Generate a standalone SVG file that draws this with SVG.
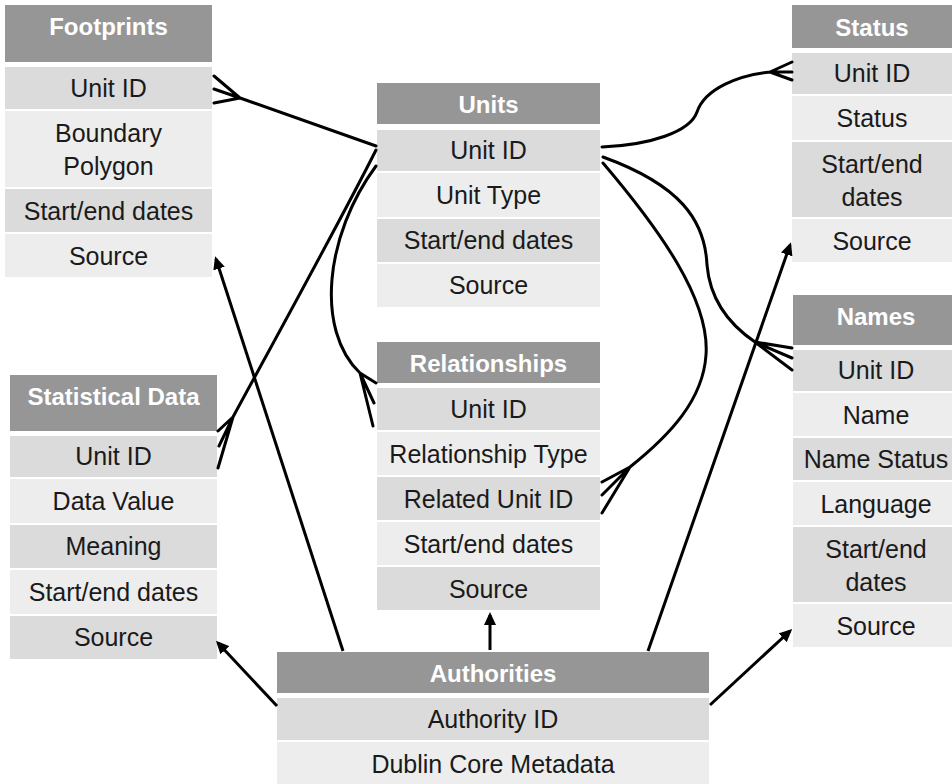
<svg xmlns="http://www.w3.org/2000/svg" width="952" height="784" viewBox="0 0 952 784">
  <style>
    .hd { fill: #969696; }
    .dk { fill: #dbdbdb; }
    .lt { fill: #ededed; }
    .ht { font-family: "Liberation Sans", Arial, sans-serif; font-size: 24px; font-weight: bold; fill: #ffffff; text-anchor: middle; }
    .rt { font-family: "Liberation Sans", Arial, sans-serif; font-size: 25px; fill: #1a1a1a; text-anchor: middle; }
    .ln { fill: none; stroke: #000000; stroke-width: 3; stroke-linecap: round; stroke-linejoin: round; }
    .ar { fill: none; stroke: #000000; stroke-width: 3; marker-end: url(#head); }
  </style>
  <defs>
    <marker id="head" markerUnits="userSpaceOnUse" markerWidth="14" markerHeight="12" refX="10" refY="6" orient="auto">
      <path d="M0,0 L13,6 L0,12 Z" fill="#000000"/>
    </marker>
  </defs>
  <rect width="952" height="784" fill="#ffffff"/>

  <!-- Footprints -->
  <g id="footprints">
    <rect class="hd" x="5" y="5" width="207" height="57"/>
    <text class="ht" x="108.5" y="35">Footprints</text>
    <rect class="dk" x="5" y="67" width="207" height="42"/>
    <text class="rt" x="108.5" y="97">Unit ID</text>
    <rect class="lt" x="5" y="111" width="207" height="76"/>
    <text class="rt" x="108.5" y="142">Boundary</text>
    <text class="rt" x="108.5" y="175">Polygon</text>
    <rect class="dk" x="5" y="189" width="207" height="43"/>
    <text class="rt" x="108.5" y="220">Start/end dates</text>
    <rect class="lt" x="5" y="234" width="207" height="43"/>
    <text class="rt" x="108.5" y="265">Source</text>
  </g>

  <!-- Status -->
  <g id="status">
    <rect class="hd" x="792" y="5" width="160" height="43"/>
    <text class="ht" x="872" y="36">Status</text>
    <rect class="dk" x="792" y="53" width="160" height="41"/>
    <text class="rt" x="872" y="82">Unit ID</text>
    <rect class="lt" x="792" y="96" width="160" height="44"/>
    <text class="rt" x="872" y="127">Status</text>
    <rect class="dk" x="792" y="142" width="160" height="75"/>
    <text class="rt" x="872" y="173">Start/end</text>
    <text class="rt" x="872" y="206">dates</text>
    <rect class="lt" x="792" y="219" width="160" height="43"/>
    <text class="rt" x="872" y="250">Source</text>
  </g>

  <!-- Units -->
  <g id="units">
    <rect class="hd" x="377" y="83" width="223" height="41"/>
    <text class="ht" x="488.5" y="113">Units</text>
    <rect class="dk" x="377" y="130" width="223" height="41"/>
    <text class="rt" x="488.5" y="159">Unit ID</text>
    <rect class="lt" x="377" y="173" width="223" height="44"/>
    <text class="rt" x="488.5" y="204">Unit Type</text>
    <rect class="dk" x="377" y="219" width="223" height="43"/>
    <text class="rt" x="488.5" y="249">Start/end dates</text>
    <rect class="lt" x="377" y="264" width="223" height="43"/>
    <text class="rt" x="488.5" y="294">Source</text>
  </g>

  <!-- Relationships -->
  <g id="relationships">
    <rect class="hd" x="377" y="342" width="223" height="41"/>
    <text class="ht" x="488.5" y="372">Relationships</text>
    <rect class="dk" x="377" y="388" width="223" height="42"/>
    <text class="rt" x="488.5" y="418">Unit ID</text>
    <rect class="lt" x="377" y="432" width="223" height="43"/>
    <text class="rt" x="488.5" y="463">Relationship Type</text>
    <rect class="dk" x="377" y="477" width="223" height="43"/>
    <text class="rt" x="488.5" y="508">Related Unit ID</text>
    <rect class="lt" x="377" y="522" width="223" height="43"/>
    <text class="rt" x="488.5" y="553">Start/end dates</text>
    <rect class="dk" x="377" y="567" width="223" height="43"/>
    <text class="rt" x="488.5" y="598">Source</text>
  </g>

  <!-- Statistical Data -->
  <g id="statistical-data">
    <rect class="hd" x="10" y="375" width="207" height="56"/>
    <text class="ht" x="113.5" y="405">Statistical Data</text>
    <rect class="dk" x="10" y="436" width="207" height="41"/>
    <text class="rt" x="113.5" y="465">Unit ID</text>
    <rect class="lt" x="10" y="479" width="207" height="44"/>
    <text class="rt" x="113.5" y="510">Data Value</text>
    <rect class="dk" x="10" y="525" width="207" height="43"/>
    <text class="rt" x="113.5" y="555">Meaning</text>
    <rect class="lt" x="10" y="570" width="207" height="44"/>
    <text class="rt" x="113.5" y="601">Start/end dates</text>
    <rect class="dk" x="10" y="616" width="207" height="43"/>
    <text class="rt" x="113.5" y="646">Source</text>
  </g>

  <!-- Names -->
  <g id="names">
    <rect class="hd" x="793" y="295" width="159" height="50"/>
    <text class="ht" x="876" y="325">Names</text>
    <rect class="dk" x="793" y="350" width="159" height="41"/>
    <text class="rt" x="876" y="379">Unit ID</text>
    <rect class="lt" x="793" y="393" width="159" height="43"/>
    <text class="rt" x="876" y="424">Name</text>
    <rect class="dk" x="793" y="438" width="159" height="42"/>
    <text class="rt" x="876" y="468">Name Status</text>
    <rect class="lt" x="793" y="482" width="159" height="43"/>
    <text class="rt" x="876" y="513">Language</text>
    <rect class="dk" x="793" y="527" width="159" height="75"/>
    <text class="rt" x="876" y="558">Start/end</text>
    <text class="rt" x="876" y="591">dates</text>
    <rect class="lt" x="793" y="604" width="159" height="43"/>
    <text class="rt" x="876" y="635">Source</text>
  </g>

  <!-- Authorities -->
  <g id="authorities">
    <rect class="hd" x="277" y="652" width="432" height="41"/>
    <text class="ht" x="493" y="682">Authorities</text>
    <rect class="dk" x="277" y="698" width="432" height="42"/>
    <text class="rt" x="493" y="728">Authority ID</text>
    <rect class="lt" x="277" y="742" width="432" height="44"/>
    <text class="rt" x="493" y="773">Dublin Core Metadata</text>
  </g>

  <!-- Connectors -->
  <g id="connectors">
    <!-- Units.UnitID to Footprints.UnitID (many) -->
    <path class="ln" d="M376,146 L240,98 M240,98 L214,76 M240,98 L214,89 M240,98 L214,103"/>
    <!-- Units.UnitID to Statistical Data.UnitID (many) -->
    <path class="ln" d="M376,150 C345,212 290,312 233,417 M233,417 L218,431 M233,417 L219,446 M233,417 L218,468"/>
    <!-- Units.UnitID to Relationships.UnitID (many) -->
    <path class="ln" d="M376,166 C325,235 315,330 360,373 M360,373 L376,383 M360,373 L374,403 M360,373 L373,426"/>
    <!-- Units.UnitID to Status.UnitID (many) -->
    <path class="ln" d="M602,147 C650,145 690,132 697,112 C705,88 740,75 770,72 M770,72 L792,62 M770,72 L792,72 M770,72 L792,80"/>
    <!-- Units.UnitID to Names.UnitID (many) -->
    <path class="ln" d="M603,157 C680,185 705,220 707,265 C710,300 730,325 755,342 M755,342 L792,348 M755,342 L792,358 M755,342 L792,370"/>
    <!-- Units.UnitID to Relationships.RelatedUnitID (many) -->
    <path class="ln" d="M603,163 C660,230 710,300 706,355 C703,400 670,435 630,467 M630,467 L602,482 M630,467 L602,495 M630,467 L602,513"/>

    <!-- Authorities to each Source field -->
    <path class="ar" d="M343,651 L216,259"/>
    <path class="ar" d="M277,706 L218,643"/>
    <path class="ar" d="M490,650 L490,615"/>
    <path class="ar" d="M648,651 L790,245"/>
    <path class="ar" d="M710,705 L790,631"/>
  </g>
</svg>
